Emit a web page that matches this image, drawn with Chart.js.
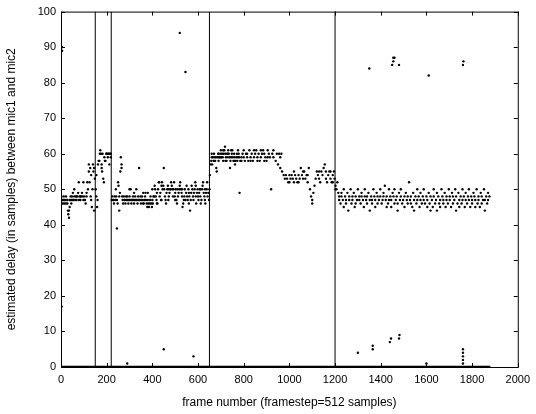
<!DOCTYPE html>
<html>
<head>
<meta charset="utf-8">
<script src="https://cdn.jsdelivr.net/npm/chart.js@4.4.0/dist/chart.umd.min.js"></script>
<style>
  html, body { margin: 0; padding: 0; background: #fff; }
  #wrap { width: 536px; height: 414px; }
</style>
</head>
<body>
<div id="wrap"><canvas id="delayChart" width="536" height="414"></canvas></div>
<script>
// frame boundaries (vertical lines)
const boundaries = [150, 220, 650, 1200];

// frames whose estimate is 0 (runs of frames)
const zeroRuns = [[0, 1880]];

// estimated delay per frame, [frame, delay]
const seg1 = [[2,47],[2,48],[5,47],[5,90],[5,89],[3,17],[8,46],[8,47],[12,47],[12,48],[15,46],[15,47],[18,47],[22,48],[22,46],[25,47],[28,46],[28,47],[30,44],[32,43],[35,44],[35,42],[38,45],[38,47],[42,47],[42,48],[45,46],[48,47],[48,48],[52,47],[52,49],[55,47],[58,48],[58,50],[62,47],[65,48],[68,48],[68,47],[72,48],[75,49],[78,52],[78,47],[82,48],[85,47],[85,48],[88,48],[92,49],[95,48],[98,47],[98,52],[102,48],[105,47],[108,46],[112,48],[112,49],[115,52],[118,50],[122,55],[122,57],[125,52],[128,56],[130,48],[132,47],[132,54],[135,45],[138,50],[140,57],[142,55],[145,56],[145,44],[148,53]];

const seg2 = [[152,50],[155,54],[155,48],[158,45],[160,47],[162,57],[165,58],[168,58],[170,60],[172,61],[175,60],[178,57],[178,56],[180,55],[182,60],[185,53],[188,52],[190,59],[192,58],[195,58],[198,60],[200,60],[202,60],[205,59],[208,60],[210,60],[212,57],[215,60],[218,60],[218,59]];

const seg3 = [[222,47],[225,48],[228,47],[230,47],[232,46],[235,48],[238,47],[240,50],[242,48],[245,39],[245,47],[248,46],[250,52],[252,51],[255,44],[255,48],[258,49],[260,55],[262,59],[265,56],[265,57],[268,48],[270,47],[272,46],[275,48],[278,47],[280,47],[282,46],[285,48],[288,47],[290,48],[292,47],[295,46],[298,47],[300,48],[302,47],[305,50],[308,46],[310,47],[312,47],[315,48],[318,47],[320,46],[322,47],[325,48],[328,47],[330,50],[332,47],[335,46],[338,48],[340,47],[342,56],[345,47],[348,48],[350,46],[352,47],[355,48],[358,47],[360,46],[362,46],[365,47],[368,48],[370,49],[372,47],[375,46],[378,45],[380,47],[382,46],[385,45],[388,46],[390,47],[392,48],[395,46],[398,45],[400,47],[402,46],[405,48],[408,48],[410,51],[412,50],[415,48],[418,47],[420,46],[422,46],[425,50],[428,52],[430,52],[432,48],[435,49],[438,47],[440,47],[442,52],[445,50],[448,51],[450,56],[452,50],[455,48],[458,47],[460,46],[462,49],[465,50],[468,51],[470,50],[472,48],[475,49],[478,50],[480,50],[482,52],[485,51],[488,50],[490,48],[492,50],[495,52],[498,48],[500,49],[502,50],[505,47],[508,46],[510,50],[512,48],[515,49],[518,50],[520,94],[520,51],[522,52],[525,50],[528,49],[530,48],[532,45],[535,46],[538,47],[540,48],[542,50],[545,83],[545,47],[548,49],[550,51],[552,48],[555,47],[558,50],[560,49],[562,48],[565,44],[568,47],[570,49],[572,51],[575,50],[578,48],[580,3],[580,47],[582,49],[585,50],[588,52],[590,48],[592,46],[595,49],[598,50],[600,48],[602,47],[605,49],[608,50],[610,48],[612,46],[615,47],[618,50],[620,51],[622,52],[625,49],[628,48],[630,47],[632,46],[635,49],[638,50],[640,52],[642,48],[645,49],[648,47],[290,1],[450,5]];

const seg4 = [[650,50],[652,54],[655,57],[658,58],[660,59],[662,57],[665,59],[668,58],[670,60],[672,59],[675,58],[678,59],[680,56],[682,55],[685,59],[688,60],[690,58],[692,59],[695,59],[698,60],[700,61],[702,59],[705,60],[708,59],[710,58],[712,60],[715,61],[718,62],[720,60],[722,59],[725,58],[728,60],[730,59],[732,61],[735,60],[738,59],[740,56],[742,58],[745,59],[748,60],[750,61],[752,59],[755,58],[758,60],[760,59],[762,57],[765,58],[768,59],[770,60],[772,58],[775,59],[778,60],[780,59],[782,49],[785,58],[790,59],[795,60],[800,59],[805,58],[810,60],[815,59],[820,58],[825,61],[830,59],[835,60],[840,58],[845,59],[850,60],[855,61],[860,59],[865,60],[870,58],[875,59],[880,60],[885,61],[890,60],[895,59],[900,58],[905,59],[910,60],[915,59],[920,50],[925,60],[930,59],[940,58],[950,57],[955,60],[960,59],[965,60],[968,55],[975,54],[980,53],[985,54],[990,53],[995,52],[1000,54],[1005,53],[1010,54],[1015,53],[1020,52],[1025,54],[1030,53],[1035,52],[1040,54],[1045,53],[1050,56],[1055,54],[1060,53],[1065,55],[1070,53],[1075,54],[1080,52],[1085,56],[1090,50],[1095,48],[1100,46],[1100,47],[1105,49],[1110,51],[1115,53],[1120,55],[1125,54],[1130,53],[1135,52],[1140,55],[1145,54],[1150,56],[1155,57],[1160,53],[1165,52],[1170,54],[1175,55],[1180,53],[1185,52],[1190,54],[1195,55],[1198,53]];

// second estimates in the same frames (thicker bands)
const seg34extra = [[300,50],[320,49],[360,49],[380,49],[400,50],[420,49],[440,51],[470,47],[500,47],[530,50],[560,46],[590,51],[610,50],[630,50],[660,60],[670,58],[690,60],[700,59],[710,61],[720,58],[730,60],[745,61],[760,58],[775,61],[790,58],[800,61],[815,60],[830,58],[845,61],[860,58],[875,61],[890,58],[905,61],[930,61],[945,60],[960,56],[1000,52],[1020,55],[1040,52],[1060,55],[1080,54],[1130,55],[1160,55],[1180,55],[1190,52]];

const seg5 = [[1202,50],[1202,51],[1206,50],[1210,52],[1214,49],[1218,48],[1218,47],[1224,46],[1228,49],[1228,48],[1234,47],[1238,50],[1238,45],[1244,48],[1248,46],[1248,47],[1254,49],[1258,44],[1262,47],[1262,48],[1268,50],[1272,46],[1276,48],[1276,47],[1282,49],[1286,45],[1290,48],[1290,46],[1296,47],[1300,50],[1306,48],[1306,47],[1312,46],[1316,49],[1316,48],[1322,47],[1326,45],[1330,48],[1330,50],[1336,47],[1340,46],[1340,48],[1346,49],[1352,47],[1352,44],[1358,48],[1362,46],[1362,47],[1368,50],[1372,48],[1376,47],[1376,45],[1382,49],[1386,46],[1386,48],[1392,47],[1398,50],[1398,48],[1404,46],[1408,47],[1412,49],[1412,48],[1418,51],[1422,47],[1426,45],[1426,48],[1432,46],[1436,50],[1436,47],[1442,48],[1446,45],[1446,47],[1452,49],[1456,48],[1460,46],[1460,50],[1466,47],[1470,48],[1474,44],[1474,46],[1480,49],[1484,47],[1488,48],[1488,50],[1494,46],[1498,47],[1504,48],[1504,45],[1510,49],[1514,47],[1518,46],[1518,48],[1524,52],[1528,47],[1532,48],[1532,46],[1538,45],[1542,49],[1546,47],[1546,44],[1552,48],[1556,46],[1560,50],[1560,47],[1566,48],[1570,45],[1574,47],[1574,49],[1580,46],[1584,48],[1588,47],[1588,50],[1594,46],[1600,48],[1604,47],[1604,45],[1610,49],[1614,46],[1618,48],[1618,44],[1624,47],[1628,45],[1632,48],[1632,50],[1638,46],[1642,47],[1646,44],[1646,49],[1652,48],[1656,46],[1660,47],[1660,45],[1666,50],[1670,48],[1674,46],[1674,47],[1680,49],[1684,45],[1688,48],[1688,47],[1694,46],[1698,50],[1702,47],[1702,48],[1708,45],[1712,49],[1716,46],[1716,48],[1722,47],[1726,50],[1730,44],[1730,48],[1736,46],[1740,49],[1744,47],[1744,45],[1750,48],[1754,46],[1758,50],[1758,47],[1764,48],[1768,45],[1772,47],[1772,49],[1778,46],[1782,48],[1786,50],[1786,47],[1792,45],[1796,48],[1800,46],[1800,47],[1806,49],[1810,48],[1814,45],[1814,47],[1820,50],[1824,46],[1828,48],[1828,47],[1834,45],[1838,49],[1842,46],[1842,48],[1848,47],[1852,50],[1856,44],[1856,47],[1862,48],[1866,46],[1870,49],[1870,47],[1876,48]];

// outliers far from the main band
const outliers = [[1300,4],[1365,5],[1365,6],[1440,7],[1445,8],[1480,8],[1482,9],[1600,1],[1760,1],[1760,2],[1760,3],[1760,4],[1760,5],[1350,84],[1450,85],[1455,86],[1460,87],[1455,87],[1480,85],[1610,82],[1760,85],[1762,86]];

const xTicks = [0, 200, 400, 600, 800, 1000, 1200, 1400, 1600, 1800, 2000];
const yTicks = [0, 10, 20, 30, 40, 50, 60, 70, 80, 90, 100];

const toPts = arr => arr.map(p => ({ x: p[0], y: p[1] }));
const allPoints = [].concat(seg1, seg2, seg3, seg4, seg34extra, seg5, outliers);

const datasets = [];
zeroRuns.forEach(r => {
  datasets.push({
    type: 'line',
    data: [{ x: r[0], y: 0 }, { x: r[1], y: 0 }],
    borderColor: '#000',
    borderWidth: 2.5,
    pointRadius: 0
  });
});
boundaries.forEach(b => {
  datasets.push({
    type: 'line',
    data: [{ x: b, y: 0 }, { x: b, y: 100 }],
    borderColor: '#000',
    borderWidth: 1,
    pointRadius: 0
  });
});
datasets.push({
  type: 'scatter',
  data: toPts(allPoints),
  backgroundColor: '#000',
  borderWidth: 0,
  pointRadius: 1.2,
  pointHoverRadius: 1.2
});

// MATLAB style box with inward ticks
const boxTicks = {
  id: 'boxTicks',
  afterDraw(chart) {
    const { ctx, chartArea: a, scales } = chart;
    ctx.save();
    ctx.strokeStyle = '#000';
    ctx.lineWidth = 1;
    ctx.strokeRect(a.left + 0.5, a.top + 0.5, a.right - a.left, a.bottom - a.top);
    ctx.beginPath();
    xTicks.forEach(v => {
      const px = Math.round(scales.x.getPixelForValue(v)) + 0.5;
      ctx.moveTo(px, a.bottom); ctx.lineTo(px, a.bottom - 4);
      ctx.moveTo(px, a.top); ctx.lineTo(px, a.top + 4);
    });
    yTicks.forEach(v => {
      const py = Math.round(scales.y.getPixelForValue(v)) + 0.5;
      ctx.moveTo(a.left, py); ctx.lineTo(a.left + 4, py);
      ctx.moveTo(a.right, py); ctx.lineTo(a.right - 4, py);
    });
    ctx.stroke();
    ctx.restore();
  }
};

const font = { family: 'Liberation Sans, Arial, sans-serif', size: 11 };

new Chart(document.getElementById('delayChart'), {
  data: { datasets },
  plugins: [boxTicks],
  options: {
    responsive: false,
    animation: false,
    events: [],
    layout: { padding: { top: 7, right: 17, left: 0, bottom: 0 } },
    plugins: { legend: { display: false }, tooltip: { enabled: false } },
    scales: {
      x: {
        type: 'linear',
        min: 0, max: 2000,
        afterBuildTicks: s => { s.ticks = xTicks.map(v => ({ value: v })); },
        afterFit: s => { s.height = 47; },
        grid: { display: false, drawTicks: false },
        border: { display: false },
        ticks: { color: '#000', font, padding: 6, maxRotation: 0, callback: v => String(v) },
        title: { display: true, text: 'frame number (framestep=512 samples)', color: '#000',
                 font: { family: font.family, size: 12 }, padding: { top: 10 } }
      },
      y: {
        type: 'linear',
        min: 0, max: 100,
        afterBuildTicks: s => { s.ticks = yTicks.map(v => ({ value: v })); },
        afterFit: s => { s.width = 61; },
        grid: { display: false, drawTicks: false },
        border: { display: false },
        ticks: { color: '#000', font, padding: 5, callback: v => String(v) },
        title: { display: true, text: 'estimated delay (in samples) between mic1 and mic2', color: '#000',
                 font: { family: font.family, size: 12 }, padding: { bottom: 6 } }
      }
    }
  }
});
</script>
</body>
</html>
